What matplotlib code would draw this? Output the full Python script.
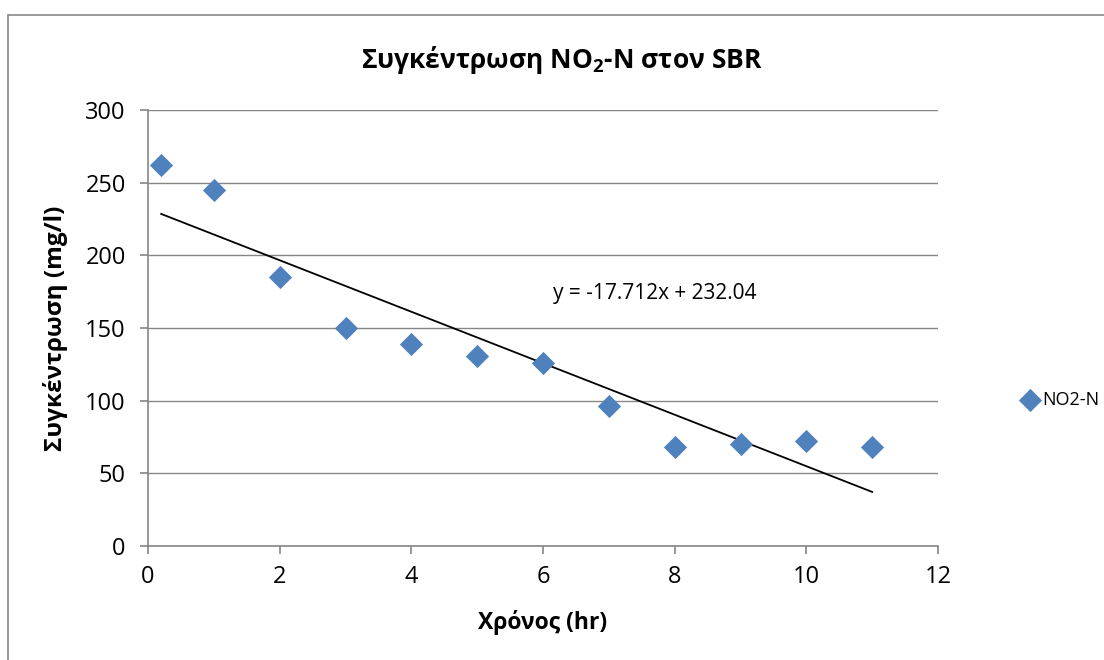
import numpy as np
import matplotlib.pyplot as plt
from matplotlib.patches import Rectangle

plt.rcParams['font.family'] = ['Open Sans', 'DejaVu Sans']
plt.rcParams['mathtext.fontset'] = 'custom'
plt.rcParams['mathtext.rm'] = 'Open Sans'
plt.rcParams['mathtext.bf'] = 'Open Sans:bold'

# Measurements
hours = [0.2, 1, 2, 3, 4, 5, 6, 7, 8, 9, 10, 11]
no2_n = [262, 245, 185, 150, 139, 131, 126, 96, 68, 70, 72, 68]

# Linear trendline
slope = -17.712
intercept = 232.04

blue = '#4F81BD'
grid_gray = '#868686'

fig = plt.figure(figsize=(11.04, 6.6), dpi=100)
ax = fig.add_axes([148 / 1104, 1 - 546 / 660, 790 / 1104, 436 / 660])

# chart border
fig.patches.append(Rectangle((8 / 1104, -0.1), 1.2, (660 - 15) / 660 + 0.1,
                             transform=fig.transFigure, fill=False,
                             edgecolor='#888888', linewidth=1.2))

ax.scatter(hours, no2_n, marker='D', s=140, color=blue, zorder=3,
           label='NO2-N', linewidths=0)

xt = np.array([hours[0], hours[-1]])
ax.plot(xt, slope * xt + intercept, color='black', linewidth=1.3, zorder=2)
ax.text(6.15, 174, 'y = -17.712x + 232.04', fontsize=15, va='center', ha='left')

ax.set_xlim(0, 12)
ax.set_ylim(0, 300)
ax.set_xticks(range(0, 13, 2))
ax.set_yticks(range(0, 301, 50))
ax.grid(axis='y', color=grid_gray, linewidth=1)
ax.set_axisbelow(True)

for side in ['top', 'right']:
    ax.spines[side].set_visible(False)
for side in ['left', 'bottom']:
    ax.spines[side].set_color(grid_gray)
    ax.spines[side].set_linewidth(1.2)
ax.tick_params(colors=grid_gray, labelcolor='black', labelsize=17,
               length=6, width=1.2, direction='out')
ax.tick_params(axis='x', pad=8)
ax.tick_params(axis='y', pad=10)

# title centred on the whole chart area, not the plot area
fig.text(562 / 1104, 1 - 60 / 660, r'Συγκέντρωση NO$_\mathbf{2}$-N στον SBR',
         fontsize=19, fontweight='bold', ha='center', va='center')
ax.set_xlabel('Χρόνος (hr)', fontsize=16.5, fontweight='bold', labelpad=15)
ax.set_ylabel('Συγκέντρωση (mg/l)', fontsize=17.5, fontweight='bold', labelpad=12)

ax.legend(loc='center left', bbox_to_anchor=(1012 / 1104, 1 - 400 / 660),
          bbox_transform=fig.transFigure, frameon=False, fontsize=13,
          handletextpad=0.1, borderaxespad=0, handlelength=1.2)

fig.savefig('out.png', dpi=100)
